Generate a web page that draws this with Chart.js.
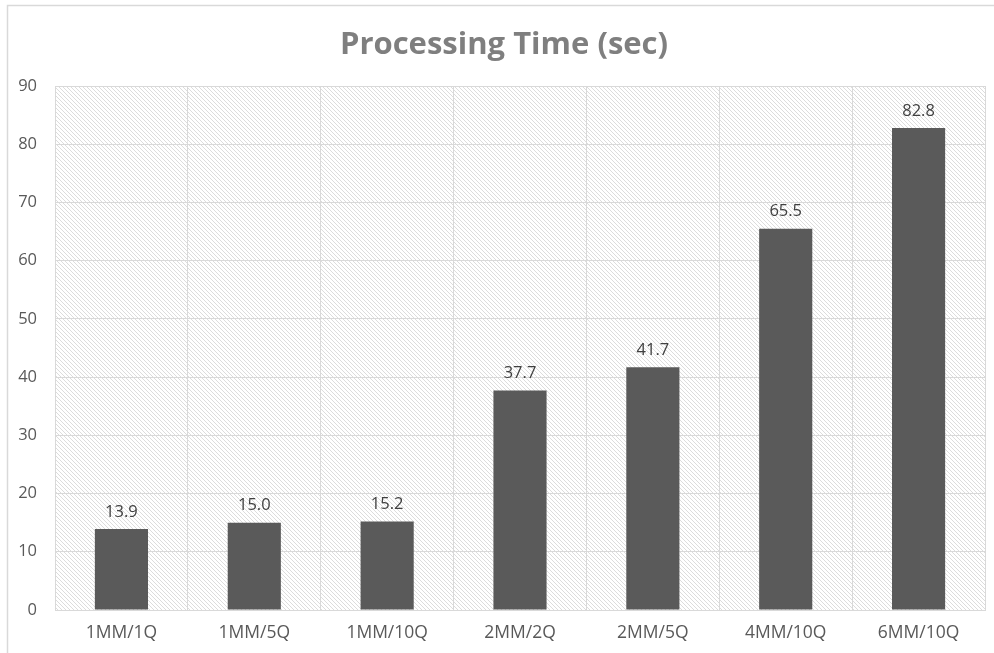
<!DOCTYPE html>
<html>
<head>
<meta charset="utf-8">
<script src="https://cdn.jsdelivr.net/npm/chart.js@4/dist/chart.umd.min.js"></script>
<style>
  html, body { margin: 0; padding: 0; background: #ffffff; }
  #wrap { width: 994px; height: 653px; }
</style>
</head>
<body>
<div id="wrap"><canvas id="chart" width="994" height="653"></canvas></div>
<script>
// Processing time per configuration, in seconds
const categories = ['1MM/1Q', '1MM/5Q', '1MM/10Q', '2MM/2Q', '2MM/5Q', '4MM/10Q', '6MM/10Q'];
const processingTime = [13.9, 15.0, 15.2, 37.7, 41.7, 65.5, 82.8];
const yTicks = [0, 10, 20, 30, 40, 50, 60, 70, 80, 90];
const chartTitle = 'Processing Time (sec)';

const FONT = '"Open Sans", "DejaVu Sans", sans-serif';
const GRID = '#d9d9d9';

// Light diagonal hatch used as the plot-area fill
function makeHatch(ctx) {
  const tile = document.createElement('canvas');
  tile.width = 4; tile.height = 4;
  const t = tile.getContext('2d');
  t.fillStyle = '#ffffff';
  t.fillRect(0, 0, 4, 4);
  t.fillStyle = '#dcdcdc';
  for (let i = 0; i < 4; i++) t.fillRect(i, i, 1, 1);
  return ctx.createPattern(tile, 'repeat');
}

const backdrop = {
  id: 'backdrop',
  beforeDraw(chart) {
    const { ctx, chartArea: a, width, height } = chart;
    ctx.save();
    ctx.fillStyle = '#ffffff';
    ctx.fillRect(0, 0, width, height);
    // outer frame
    ctx.strokeStyle = GRID;
    ctx.lineWidth = 1.5;
    ctx.strokeRect(7.5, 5.5, width + 20, height + 20);
    // hatched plot area
    ctx.fillStyle = makeHatch(ctx);
    ctx.fillRect(a.left, a.top, a.right - a.left, a.bottom - a.top);
    // heading, centred a little right of the canvas middle
    ctx.fillStyle = '#7f7f7f';
    ctx.font = 'bold 31px ' + FONT;
    ctx.textAlign = 'center';
    ctx.textBaseline = 'middle';
    ctx.fillText(chartTitle, 504, 45);
    ctx.restore();
  }
};

const valueLabels = {
  id: 'valueLabels',
  afterDatasetsDraw(chart) {
    const { ctx } = chart;
    const meta = chart.getDatasetMeta(0);
    const values = chart.data.datasets[0].data;
    ctx.save();
    ctx.fillStyle = '#404040';
    ctx.font = '16.5px ' + FONT;
    ctx.textAlign = 'center';
    ctx.textBaseline = 'middle';
    meta.data.forEach((bar, i) => {
      ctx.fillText(values[i].toFixed(1), bar.x, bar.y - 17);
    });
    ctx.restore();
  }
};

new Chart(document.getElementById('chart'), {
  type: 'bar',
  data: {
    labels: categories,
    datasets: [{
      data: processingTime,
      backgroundColor: '#5a5a5a',
      borderWidth: 0,
      barPercentage: 0.4,
      categoryPercentage: 1.0
    }]
  },
  options: {
    responsive: false,
    animation: false,
    devicePixelRatio: 1,
    layout: { padding: { left: 0, right: 9, top: 86, bottom: 0 } },
    plugins: {
      legend: { display: false },
      tooltip: { enabled: false },
      title: { display: false }
    },
    scales: {
      x: {
        grid: { color: GRID, lineWidth: 1, drawTicks: false, offset: true },
        border: { color: GRID, width: 1 },
        ticks: { color: '#595959', font: { family: FONT, size: 17.5 }, padding: 13, maxRotation: 0 },
        afterFit(scale) { scale.height = 43; }
      },
      y: {
        min: 0,
        max: 90,
        afterBuildTicks(scale) { scale.ticks = yTicks.map(v => ({ value: v })); },
        grid: { color: GRID, lineWidth: 1, drawTicks: false },
        border: { color: GRID, width: 1 },
        ticks: { color: '#595959', font: { family: FONT, size: 16.5 }, padding: 18 },
        afterFit(scale) { scale.width = 55; }
      }
    }
  },
  plugins: [backdrop, valueLabels]
});
</script>
</body>
</html>
